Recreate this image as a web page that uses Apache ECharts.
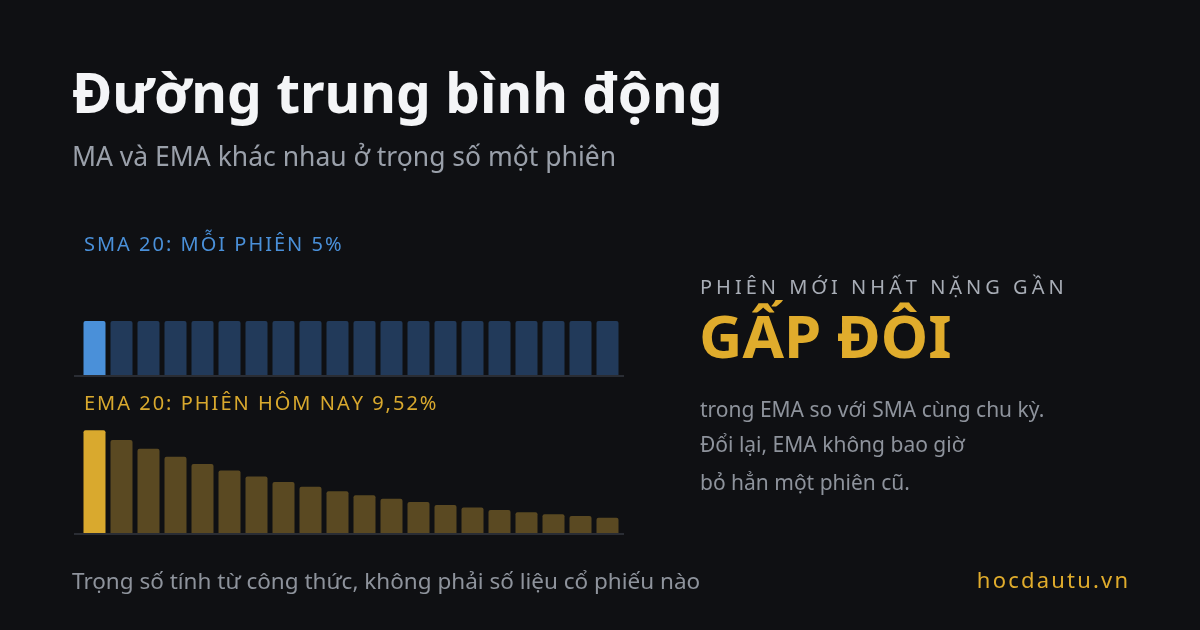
<!DOCTYPE html>
<html><head><meta charset="utf-8">
<script src="https://cdn.jsdelivr.net/npm/echarts@6/dist/echarts.min.js"></script>
<style>html,body{margin:0;background:#0f1013}#c{width:1200px;height:630px}</style>
</head><body><div id="c"></div>
<script>
const sessions = ['1','2','3','4','5','6','7','8','9','10','11','12','13','14','15','16','17','18','19','20'];
const smaWeights = [5,5,5,5,5,5,5,5,5,5,5,5,5,5,5,5,5,5,5,5];
const emaWeights = [9.52,8.62,7.80,7.05,6.38,5.78,5.23,4.73,4.28,3.87,3.50,3.17,2.87,2.59,2.35,2.12,1.92,1.74,1.57,1.42];

const font = '"Noto Sans", "Open Sans", sans-serif';
const chart = echarts.init(document.getElementById('c'));
function mk(data, hi, lo){
  return data.map((v,i)=>({value:v,itemStyle:{color:i===0?hi:lo}}));
}
const sp = (s,n)=>Array.from(s).join('\u200A'.repeat(n));
const txt = (x,y,t,size,color,weight)=>({type:'text',left:x,top:y,style:{text:t,fontSize:size,fill:color,fontWeight:weight||'normal',fontFamily:font}});
chart.setOption({
  backgroundColor:'#0f1013',
  animation:false,
  grid:[{left:81,width:540,top:267,height:108},{left:81,width:540,top:425,height:108}],
  xAxis:[0,1].map(i=>({type:'category',gridIndex:i,data:sessions,axisLine:{show:false},axisTick:{show:false},axisLabel:{show:false}})),
  yAxis:[0,1].map(i=>({type:'value',gridIndex:i,min:0,max:10,show:false,splitLine:{show:false}})),
  series:[
    {type:'bar',xAxisIndex:0,yAxisIndex:0,barWidth:22,data:mk(smaWeights,'#4a90d9','#223a5a'),itemStyle:{borderRadius:[2,2,0,0]}},
    {type:'bar',xAxisIndex:1,yAxisIndex:1,barWidth:22,data:mk(emaWeights,'#d9a92e','#5a4922'),itemStyle:{borderRadius:[2,2,0,0]}}
  ],
  graphic:[
    {type:'rect',shape:{x:74,y:375,width:550,height:2},style:{fill:'#2a2d34'}},
    {type:'rect',shape:{x:74,y:533,width:550,height:2},style:{fill:'#2a2d34'}},
    txt(72,70,'Đường trung bình động',55,'#f4f5f7','bold'),
    txt(72,145,'MA và EMA khác nhau ở trọng số một phiên',26.5,'#9aa0aa'),
    txt(84,235,sp('SMA 20: MỖI PHIÊN 5%',1),20,'#4a90d9'),
    txt(84,394,sp('EMA 20: PHIÊN HÔM NAY 9,52%',1),20,'#d9a92e'),
    txt(700,278,sp('PHIÊN MỚI NHẤT NẶNG GẦN',2),20,'#a8adb6'),
    txt(699,311,'GẤP ĐÔI',60,'#e0ac2c','bold'),
    txt(700,401,'trong EMA so với SMA cùng chu kỳ.',21,'#8e939c'),
    txt(700,436,'Đổi lại, EMA không bao giờ',21,'#8e939c'),
    txt(700,474,'bỏ hẳn một phiên cũ.',21,'#8e939c'),
    txt(72,571,'Trọng số tính từ công thức, không phải số liệu cổ phiếu nào',22.5,'#8e939c'),
    {type:'text',right:72,top:571,style:{text:sp('hocdautu.vn',1),fontSize:22,fill:'#e0ac2c',fontFamily:font}}
  ]
});
</script></body></html>
